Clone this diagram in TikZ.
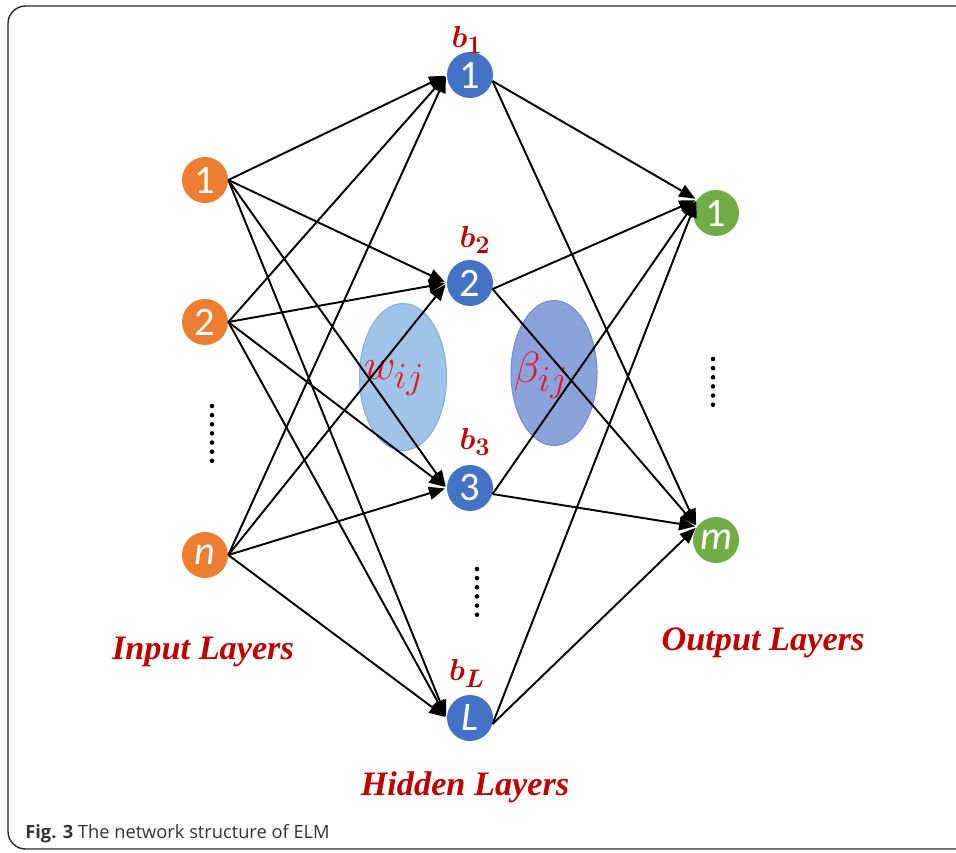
\documentclass[tikz,border=0pt]{standalone}
\usepackage{fontspec}
\usepackage{bm}
\setmainfont{Liberation Serif}
\newfontfamily\nodefont{Carlito}
\newfontfamily\capfont{Open Sans}
\usetikzlibrary{arrows.meta,shapes.geometric}
\definecolor{inorange}{RGB}{237,125,49}
\definecolor{hidblue}{RGB}{68,114,196}
\definecolor{outgreen}{RGB}{112,173,71}
\definecolor{darkred}{RGB}{192,0,0}
\definecolor{brightred}{RGB}{235,20,30}
\definecolor{wfill}{RGB}{160,196,232}
\definecolor{wdraw}{RGB}{130,175,225}
\definecolor{bfill}{RGB}{140,162,218}
\definecolor{bdraw}{RGB}{115,140,210}
\definecolor{framegray}{RGB}{40,40,40}
\tikzset{
  neuron/.style={circle, minimum size=0.92cm, inner sep=0pt, text=white, font=\nodefont\fontsize{23}{23}\selectfont},
  innode/.style={neuron, fill=inorange},
  hidnode/.style={neuron, fill=hidblue},
  outnode/.style={neuron, fill=outgreen},
  arr/.style={-{Triangle[length=3.2mm,width=2.6mm]}, line width=1.1pt, shorten >=1pt},
  layerlbl/.style={text=darkred, font=\fontsize{19.5}{19.5}\selectfont\bfseries\itshape},
  blbl/.style={text=darkred, font=\fontsize{19}{19}\selectfont},
  dotcol/.style={line width=2.6pt, line cap=round, dash pattern=on 0pt off 5.2pt},
  wtlbl/.style={text=brightred, font=\fontsize{31}{31}\selectfont}
}
\begin{document}
\begin{tikzpicture}[x=0.02cm, y=-0.02cm]
\useasboundingbox (0,0) rectangle (956,852);
% frame
\begin{scope}
\clip (0,0) rectangle (956,852);
\draw[framegray, line width=0.8pt, rounded corners=10pt] (8,6) rectangle (980,849);
\end{scope}
% ellipses
\node[ellipse, minimum width=1.74cm, minimum height=2.94cm, fill=wfill, draw=wdraw, line width=0.6pt] (we) at (403,377) {};
\node[ellipse, minimum width=1.72cm, minimum height=2.9cm, fill=bfill, draw=bdraw, line width=0.6pt] (be) at (554,373) {};
\node[wtlbl] (wl) at (394,378) {$w_{ij}$};
\node[wtlbl] (bl) at (541,375) {$\beta_{ij}$};
% nodes
\node[innode] (i1) at (205,180) {1};
\node[innode] (i2) at (205,322) {2};
\node[innode] (in) at (205,555) {\itshape n};
\node[hidnode] (h1) at (470,75) {1};
\node[hidnode] (h2) at (470,283) {2};
\node[hidnode] (h3) at (470,488) {3};
\node[hidnode] (hL) at (470,718) {\itshape L};
\node[outnode] (o1) at (716,213) {1};
\node[outnode] (om) at (716,540) {\itshape m};
% bias labels
\node[blbl] (b1) at (467,40) {$\bm{b_{1}}$};
\node[blbl] (b2) at (475,240) {$\bm{b_{2}}$};
\node[blbl] (b3) at (475,442) {$\bm{b_{3}}$};
\node[blbl] (bL) at (467,673) {$\bm{b_{L}}$};
% edges input -> hidden
\foreach \i in {i1,i2,in}{
  \foreach \h in {h1,h2,h3,hL}{
    \draw[arr] (\i.east) -- (\h.west);
  }
}
% edges hidden -> output
\foreach \h in {h1,h2,h3,hL}{
  \foreach \o in {o1,om}{
    \draw[arr] (\h.-15) -- (\o.145);
  }
}
% dots
\draw[dotcol] (212,406) -- (212,462);
\draw[dotcol] (477,569) -- (477,622);
\draw[dotcol] (713,359) -- (713,412);
% layer labels
\node[layerlbl] (il) at (203,652) {Input Layers};
\node[layerlbl] (ol) at (763,643) {Output Layers};
\node[layerlbl] (hl) at (465,787) {Hidden Layers};
% caption
\node[anchor=base west, inner sep=0pt, text=black!80, font=\capfont\fontsize{10.4}{10.4}\selectfont] (cap) at (25,838) {\textbf{Fig. 3} The network structure of ELM};
\end{tikzpicture}
\end{document}
